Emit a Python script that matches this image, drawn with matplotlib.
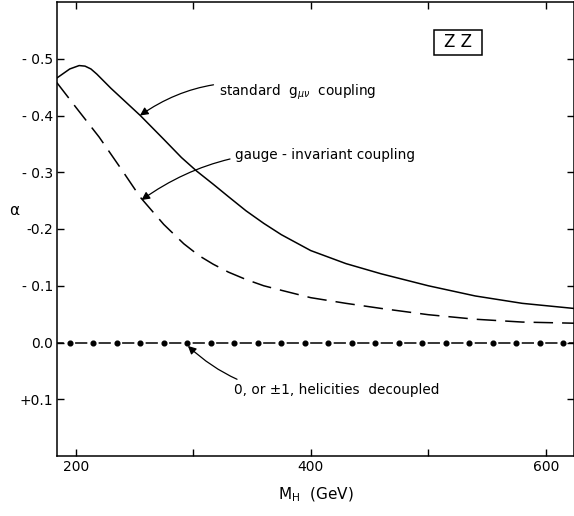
import numpy as np
import matplotlib
matplotlib.use("Agg")
import matplotlib.pyplot as plt
from matplotlib.patches import Rectangle

plt.rcParams['font.family'] = ['DejaVu Sans']
plt.rcParams['lines.scale_dashes'] = False

# standard g_mu_nu coupling (solid)
m_std = [184, 195, 203, 208, 213, 218, 230, 255, 275, 290, 303, 317, 330,
         345, 360, 375, 400, 430, 460, 500, 540, 580, 624]
a_std = [-0.466, -0.482, -0.488, -0.487, -0.482, -0.473, -0.448, -0.400,
         -0.358, -0.326, -0.302, -0.279, -0.257, -0.232, -0.210, -0.190,
         -0.162, -0.139, -0.121, -0.100, -0.082, -0.069, -0.060]

# gauge-invariant coupling (dashed)
m_gauge = [184, 200, 220, 240, 255, 275, 292, 305, 317, 330, 345, 360, 375,
           400, 430, 460, 500, 540, 580, 624]
a_gauge = [-0.458, -0.415, -0.362, -0.302, -0.256, -0.208, -0.174, -0.153,
           -0.138, -0.124, -0.111, -0.100, -0.092, -0.079, -0.069, -0.060,
           -0.049, -0.041, -0.036, -0.034]

# 0, or +-1, helicities decoupled (dash-dot)
m_dec = np.arange(195, 616, 20)
a_dec = np.zeros(len(m_dec))

xticks = [200, 300, 400, 500, 600]
xticklabels = ['200', '', '400', '', '600']
yticks = [-0.5, -0.4, -0.3, -0.2, -0.1, 0.0, 0.1]
yticklabels = ['- 0.5', '- 0.4', '- 0.3', '-0.2', '- 0.1', '0.0', '+0.1']

xmin, xmax = 184.4, 624
fig = plt.figure(figsize=(5.74, 5.16), dpi=100)
ax = fig.add_axes([57.3 / 574, 60 / 516, 1 - 57.3 / 574, 454 / 516])

ax.plot(m_std, a_std, color='black', lw=1.1)
ax.plot(m_gauge, a_gauge, color='black', lw=1.1, ls=(0, (14, 6.5)))

# dash-dot baseline: dashes between the dots
pt_per_gev = ax.get_position().width * 5.74 * 72 / (xmax - xmin)
period = (m_dec[1] - m_dec[0]) * pt_per_gev
on = 8.8
dash_start = m_dec[0] - 10 - on / 2 / pt_per_gev
offset = ((xmin - dash_start) * pt_per_gev) % period
ax.plot([xmin, xmax], [0, 0], color='black', lw=1.1,
        ls=(offset, (on, period - on)))
ax.plot(m_dec, a_dec, 'o', color='black', ms=3.4, ls='none')

ax.set_xlim(xmin, xmax)
ax.set_ylim(0.2, -0.6)
ax.set_xticks(xticks)
ax.set_xticklabels(xticklabels)
ax.set_yticks(yticks)
ax.set_yticklabels(yticklabels)
ax.tick_params(direction='in', length=5, width=1, top=True, right=True,
               labelsize=10, pad=3)
for s in ax.spines.values():
    s.set_linewidth(1.1)

ax.set_xlabel(r'M$_\mathregular{H}$  (GeV)', fontsize=11, labelpad=8)
ax.text(-0.083, 0.54, 'α', transform=ax.transAxes, fontsize=11,
        ha='center', va='center')

arrow = dict(arrowstyle='-|>', color='black', lw=0.9,
             mutation_scale=12, shrinkA=2, shrinkB=0)
ax.annotate(r'standard  g$_{\mu\nu}$  coupling', xy=(254.7, -0.4),
            xytext=(322, -0.44), fontsize=9.8, va='center', ha='left',
            arrowprops=dict(arrow, connectionstyle='arc3,rad=0.25'))
ax.annotate('gauge - invariant coupling', xy=(256, -0.251),
            xytext=(336, -0.330), fontsize=9.8, va='center', ha='left',
            arrowprops=dict(arrow, connectionstyle='arc3,rad=0.2'))
ax.annotate('0, or ±1, helicities  decoupled', xy=(295.5, 0.006),
            xytext=(335, 0.084), fontsize=9.8, va='center', ha='left',
            arrowprops=dict(arrow, connectionstyle='arc3,rad=-0.25'))

ax.add_patch(Rectangle((0.729, 0.8833), 0.0935, 0.0547, transform=ax.transAxes,
                       fill=False, ec='black', lw=1.1))
ax.text(0.7758, 0.911, 'Z Z', transform=ax.transAxes, fontsize=12,
        ha='center', va='center')

fig.savefig('out.png', dpi=100)
